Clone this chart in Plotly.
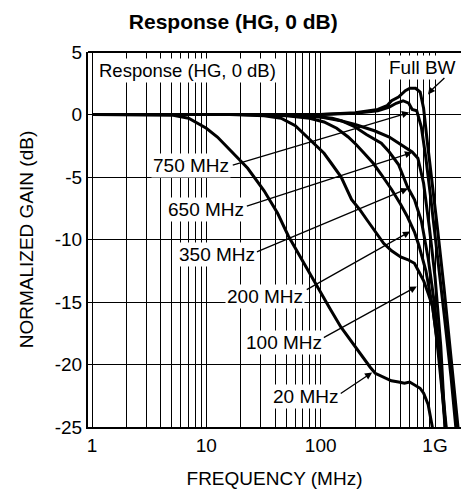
import plotly.graph_objects as go

# ---------------- data (frequency in MHz, normalized gain in dB) ----------------
f_20 = [1, 3, 5, 7, 10, 12.5, 16, 23, 32, 42, 52, 71, 93, 120, 150, 186, 224, 270,
        300, 355, 415, 480, 540, 600, 660, 740, 795, 870, 960]
g_20 = [0, 0, -0.05, -0.3, -1.1, -1.8, -2.8, -4.3, -6.1, -7.9, -9.7, -11.9, -13.8,
        -15.5, -17.0, -18.2, -19.2, -20.2, -20.7, -21.0, -21.3, -21.4, -21.5, -21.4,
        -21.6, -21.9, -22.3, -23.2, -25.3]

f_100 = [1, 16, 32, 45, 60, 76, 91, 107, 126, 151, 186, 219, 257, 302, 355, 417,
         500, 575, 660, 725, 795, 870, 955, 1050, 1150, 1250]
g_100 = [0, 0, -0.1, -0.3, -0.9, -1.8, -2.5, -3.1, -4.0, -5.0, -6.8, -7.6, -8.5,
         -9.4, -10.3, -10.9, -11.4, -11.6, -11.9, -12.6, -13.3, -14.3, -15.4, -18.5,
         -22.0, -25.3]

f_200 = [1, 20, 50, 80, 107, 138, 174, 204, 240, 288, 339, 417, 501, 575, 661, 724,
         832, 955, 1096, 1202, 1260]
g_200 = [0, 0, -0.1, -0.3, -0.6, -1.1, -1.8, -2.4, -3.1, -3.9, -4.8, -6.0, -7.2,
         -8.2, -9.4, -10.5, -12.5, -15.5, -19.5, -23.5, -25.3]

f_350 = [1, 32, 80, 126, 151, 200, 251, 339, 398, 479, 525, 575, 661, 759, 871,
         1000, 1122, 1230]
g_350 = [0, 0, -0.1, -0.3, -0.5, -1.0, -1.6, -2.3, -3.0, -4.0, -4.9, -5.8, -6.8,
         -8.5, -11.5, -15.5, -20.5, -25.3]

f_650 = [1, 45, 100, 150, 200, 295, 398, 479, 562, 631, 708, 794, 891, 1000, 1122,
         1230]
g_650 = [0, 0, -0.2, -0.5, -0.8, -1.3, -1.8, -2.3, -2.7, -3.0, -3.5, -5.5, -9.0,
         -13.0, -18.5, -25.3]

f_750 = [1, 100, 200, 316, 398, 457, 525, 589, 631, 692, 759, 832, 912, 1047, 1202,
         1380, 1530]
g_750 = [0, 0, 0.1, 0.3, 0.6, 0.9, 1.1, 0.9, 0.4, 0.3, -1.0, -3.5, -6.5, -11.0,
         -16.0, -21.0, -25.3]

f_full = [1, 100, 200, 316, 380, 417, 479, 550, 603, 676, 741, 794, 851, 933, 1047,
          1202, 1380, 1600]
g_full = [0, 0, 0.15, 0.4, 0.7, 1.1, 1.4, 1.9, 2.1, 2.1, 1.8, 0.5, -2.0, -5.0, -9.0,
          -14.0, -19.5, -25.3]

curves = [(f_20, g_20), (f_100, g_100), (f_200, g_200), (f_350, g_350),
          (f_650, g_650), (f_750, g_750), (f_full, g_full)]

x_major = [1, 10, 100, 1000]
x_major_text = ["1", "10", "100", "1G"]
x_minor = [2, 3, 4, 5, 6, 7, 8, 9, 20, 30, 40, 50, 60, 70, 80, 90,
           200, 300, 400, 500, 600, 700, 800, 900]
y_ticks = [5, 0, -5, -10, -15, -20, -25]
y_tick_text = ["5", "0", "-5", "-10", "-15", "-20", "-25"]

# label text, label centre (log10 f, dB), arrow tail, arrow head
labels = [
    ("750 MHz", 0.869, -4.08, 1.218, -4.08, 2.773, 0.16),
    ("650 MHz", 0.996, -7.60, 1.341, -7.36, 2.799, -3.04),
    ("350 MHz", 1.092, -11.2, 1.428, -11.04, 2.764, -5.92),
    ("200 MHz", 1.515, -14.56, 1.865, -14.08, 2.782, -9.36),
    ("100 MHz", 1.677, -18.24, 2.013, -17.92, 2.840, -13.76),
    ("20 MHz", 1.869, -22.56, 2.162, -22.40, 2.450, -20.64),
]

FONT = "Liberation Sans, Arial, sans-serif"

fig = go.Figure()
for fx, gy in curves:
    fig.add_trace(go.Scatter(x=fx, y=gy, mode="lines",
                             line=dict(color="black", width=3),
                             showlegend=False, hoverinfo="skip"))

ann = []
ann.append(dict(text="Response (HG, 0 dB)", x=0.838, y=3.52, xref="x", yref="y",
                showarrow=False, bgcolor="white", font=dict(size=18.5, color="black"),
                borderpad=1))
ann.append(dict(text="Full BW", x=2.886, y=3.76, xref="x", yref="y",
                showarrow=False, bgcolor="white", font=dict(size=19, color="black"),
                borderpad=1))
# Full BW pointer (two segments)
ann.append(dict(text="", x=2.965, y=1.92, ax=3.095, ay=3.04, xref="x", yref="y",
                axref="x", ayref="y", showarrow=True, arrowhead=0, arrowwidth=1.3,
                arrowcolor="black", standoff=0, startstandoff=0))
ann.append(dict(text="", x=2.939, y=1.60, ax=2.965, ay=1.92, xref="x", yref="y",
                axref="x", ayref="y", showarrow=True, arrowhead=2, arrowsize=1.1,
                arrowwidth=1.3, arrowcolor="black", standoff=0, startstandoff=0))
for txt, lx, ly, tx, ty, hx, hy in labels:
    ann.append(dict(text="", x=hx, y=hy, ax=tx, ay=ty, xref="x", yref="y",
                    axref="x", ayref="y", showarrow=True, arrowhead=2, arrowsize=1.1,
                    arrowwidth=1.3, arrowcolor="black", standoff=0, startstandoff=0))
    ann.append(dict(text=txt, x=lx, y=ly, xref="x", yref="y", showarrow=False,
                    bgcolor="white", font=dict(size=19, color="black"), borderpad=1))

fig.update_layout(
    width=461, height=493,
    margin=dict(l=88, r=0, t=52, b=66, autoexpand=False),
    paper_bgcolor="white", plot_bgcolor="white",
    font=dict(family=FONT, color="black", size=19),
    title=dict(text="<b>Response (HG, 0 dB)</b>", x=0.506, xanchor="center",
               y=0.956, yanchor="middle", font=dict(size=21, family=FONT)),
    annotations=ann,
)
fig.update_xaxes(type="log", range=[-0.035, 3.227], automargin=False,
                 tickvals=x_major, ticktext=x_major_text, ticks="",
                 showgrid=True, gridcolor="black", gridwidth=1.2,
                 minor=dict(tickvals=x_minor, showgrid=True, gridcolor="black",
                            gridwidth=1.2, ticks=""),
                 showline=True, linecolor="black", linewidth=2, mirror=False,
                 zeroline=False, tickfont=dict(size=19),
                 title=dict(text="FREQUENCY (MHz)", font=dict(size=19), standoff=17))
fig.update_yaxes(range=[-25, 5], tickvals=y_ticks, ticktext=y_tick_text, ticks="",
                 automargin=False,
                 showgrid=True, gridcolor="black", gridwidth=1.2,
                 showline=True, linecolor="black", linewidth=2, mirror=False,
                 zeroline=False, tickfont=dict(size=19),
                 title=dict(text="NORMALIZED GAIN (dB)", font=dict(size=19), standoff=16))
# top border
fig.add_shape(type="line", xref="paper", yref="paper", x0=0, x1=1, y0=1, y1=1,
              line=dict(color="black", width=2))

fig.write_html(
    "out.html",
    config={"displayModeBar": False},
    post_script="document.body.style.margin='0';document.body.style.padding='0';"
                "document.documentElement.style.overflow='hidden';",
)
